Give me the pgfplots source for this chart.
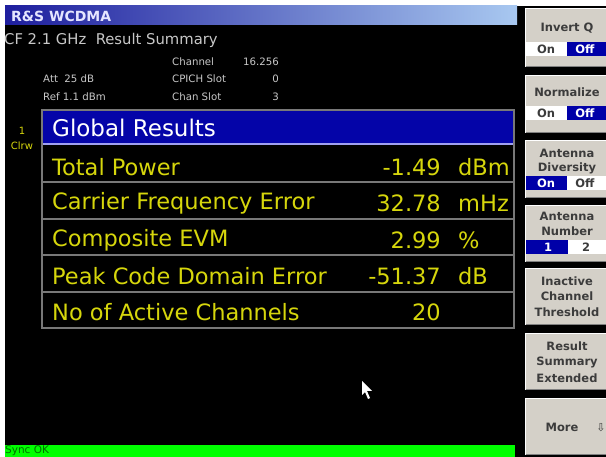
\documentclass[border=0pt]{standalone}
\usepackage{pgfplots}
\pgfplotsset{compat=1.18}
\usepackage{pgfplotstable}
\usepackage{fontspec}
\setmainfont{DejaVu Sans}
\definecolor{tbl}{HTML}{1E1E9E}
\definecolor{tbr}{HTML}{A8C8F0}
\definecolor{hdrblue}{HTML}{0404A8}
\definecolor{hdrline}{HTML}{A0A0F0}
\definecolor{yel}{HTML}{D6D60C}
\definecolor{info}{HTML}{C8C8C8}
\definecolor{grid}{HTML}{787878}
\definecolor{btn}{HTML}{D4D0C8}
\definecolor{btntxt}{HTML}{3C3C3C}
\definecolor{tgblue}{HTML}{0000A8}
\definecolor{sync}{HTML}{00FF00}
\definecolor{synctxt}{HTML}{007000}

\pgfplotstableread[col sep=comma]{
y,label,value,unit
167,Total Power,-1.49,dBm
203,Carrier Frequency Error,32.78,mHz
240,Composite EVM,2.99,\%
276,Peak Code Domain Error,-51.37,dB
312,No of Active Channels,20,{}
}\results

\newcommand{\btn}[2]{%
  \fill[btn] (axis cs:525,#1) rectangle (axis cs:606,#2);
  \draw[white, line width=1pt] (axis cs:525.5,#2) -- (axis cs:525.5,#1+0.5) -- (axis cs:606,#1+0.5);
  \draw[gray, line width=1pt] (axis cs:525.5,#2-0.5) -- (axis cs:606,#2-0.5);}
\newcommand{\btxt}[2]{\node[text=btntxt, font=\bfseries\fontsize{11.5}{13}\selectfont, inner sep=0pt] at (axis cs:567,#1) {#2};}

\begin{document}
\begin{tikzpicture}
\begin{axis}[scale only axis, width=606pt, height=457pt,
  xmin=0, xmax=606, ymin=0, ymax=457, y dir=reverse,
  hide axis, clip=false]
% screen
\fill[white] (axis cs:0,0) rectangle (axis cs:606,457);
\fill[black] (axis cs:5,6) rectangle (axis cs:606,457);
\shade[left color=tbl, right color=tbr] (axis cs:5,6) rectangle (axis cs:517,25);
\node[anchor=west, text=white!90!blue, font=\bfseries\fontsize{14}{16}\selectfont, inner sep=0pt] at (axis cs:11,16.5) {R\&S WCDMA};
\node[anchor=west, text=info, font=\fontsize{14.8}{16}\selectfont, inner sep=0pt] at (axis cs:4,40) {CF 2.1 GHz\ \ Result Summary};
\begin{scope}[every node/.style={text=info, font=\fontsize{10.2}{11}\selectfont, inner sep=0pt}]
\node[anchor=west] at (axis cs:172,62) {Channel};
\node[anchor=east] at (axis cs:279,62) {16.256};
\node[anchor=west] at (axis cs:43,79) {Att\ \ 25 dB};
\node[anchor=west] at (axis cs:172,79) {CPICH Slot};
\node[anchor=east] at (axis cs:279,79) {0};
\node[anchor=west] at (axis cs:43,97) {Ref 1.1 dBm};
\node[anchor=west] at (axis cs:172,97) {Chan Slot};
\node[anchor=east] at (axis cs:279,97) {3};
\end{scope}
\node[text=yel, font=\fontsize{10}{11}\selectfont, inner sep=0pt] at (axis cs:22,131) {1};
\node[text=yel, font=\fontsize{10}{11}\selectfont, inner sep=0pt] at (axis cs:22,146) {Clrw};
% table
\fill[hdrblue] (axis cs:42,110) rectangle (axis cs:514,144);
\draw[hdrline, line width=1.5pt] (axis cs:42,144) -- (axis cs:514,144);
\draw[grid, line width=1.5pt] (axis cs:42,182) -- (axis cs:514,182);
\draw[grid, line width=1.5pt] (axis cs:42,219) -- (axis cs:514,219);
\draw[grid, line width=1.5pt] (axis cs:42,255) -- (axis cs:514,255);
\draw[grid, line width=1.5pt] (axis cs:42,292) -- (axis cs:514,292);
\draw[grid, line width=1.5pt] (axis cs:42,110) rectangle (axis cs:514,328);
\node[anchor=west, text=white, font=\fontsize{23}{26}\selectfont, inner sep=0pt] at (axis cs:52,128) {Global Results};
\addplot[draw=none, mark=none, point meta=explicit symbolic, nodes near coords,
  nodes near coords style={anchor=west, inner sep=0pt, text=yel, font=\fontsize{22.5}{26}\selectfont}]
  table[x expr=52, y=y, meta=label] {\results};
\addplot[draw=none, mark=none, point meta=explicit symbolic, nodes near coords,
  nodes near coords style={anchor=east, inner sep=0pt, text=yel, font=\fontsize{22.5}{26}\selectfont}]
  table[x expr=441, y=y, meta=value] {\results};
\addplot[draw=none, mark=none, point meta=explicit symbolic, nodes near coords,
  nodes near coords style={anchor=west, inner sep=0pt, text=yel, font=\fontsize{22.5}{26}\selectfont}]
  table[x expr=458, y=y, meta=unit] {\results};
% cursor
\fill[white] (axis cs:362,381) -- (axis cs:362,395) -- (axis cs:365,392) -- (axis cs:368,399) -- (axis cs:370,398) -- (axis cs:367,391) -- (axis cs:372,391) -- cycle;
% status bar
\fill[sync] (axis cs:5,445) rectangle (axis cs:515,457);
\node[anchor=west, text=synctxt, font=\fontsize{10.5}{11}\selectfont, inner sep=0pt] at (axis cs:5,451) {Sync OK};
% softkeys
\btn{8}{67}\btxt{28}{Invert Q}
\fill[white] (axis cs:526,42) rectangle (axis cs:567,56);
\fill[tgblue] (axis cs:567,42) rectangle (axis cs:606,56);
\node[text=btntxt, font=\bfseries\fontsize{11.5}{13}\selectfont, inner sep=0pt] at (axis cs:546,49) {On};
\node[text=white, font=\bfseries\fontsize{11.5}{13}\selectfont, inner sep=0pt] at (axis cs:585,49) {Off};
\btn{75}{133}\btxt{92}{Normalize}
\fill[white] (axis cs:526,106) rectangle (axis cs:567,120);
\fill[tgblue] (axis cs:567,106) rectangle (axis cs:606,120);
\node[text=btntxt, font=\bfseries\fontsize{11.5}{13}\selectfont, inner sep=0pt] at (axis cs:546,113) {On};
\node[text=white, font=\bfseries\fontsize{11.5}{13}\selectfont, inner sep=0pt] at (axis cs:585,113) {Off};
\btn{140}{198}\btxt{153}{Antenna}\btxt{168}{Diversity}
\fill[tgblue] (axis cs:526,176) rectangle (axis cs:567,190);
\fill[white] (axis cs:567,176) rectangle (axis cs:606,190);
\node[text=white, font=\bfseries\fontsize{11.5}{13}\selectfont, inner sep=0pt] at (axis cs:546,183) {On};
\node[text=btntxt, font=\bfseries\fontsize{11.5}{13}\selectfont, inner sep=0pt] at (axis cs:585,183) {Off};
\btn{205}{262}\btxt{216}{Antenna}\btxt{231}{Number}
\fill[tgblue] (axis cs:526,240) rectangle (axis cs:568,254);
\fill[white] (axis cs:568,240) rectangle (axis cs:606,254);
\node[text=white, font=\bfseries\fontsize{11.5}{13}\selectfont, inner sep=0pt] at (axis cs:548,247) {1};
\node[text=btntxt, font=\bfseries\fontsize{11.5}{13}\selectfont, inner sep=0pt] at (axis cs:586,247) {2};
\btn{268}{325}\btxt{281}{Inactive}\btxt{296}{Channel}\btxt{312}{Threshold}
\btn{333}{390}\btxt{346}{Result}\btxt{362}{Summary}\btxt{378}{Extended}
\btn{398}{455}
\node[text=btntxt, font=\bfseries\fontsize{11.5}{13}\selectfont, inner sep=0pt] at (axis cs:562,427) {More};
\node[text=btntxt, font=\fontsize{11}{13}\selectfont, inner sep=0pt] at (axis cs:601,428) {⇩};
\end{axis}
\pgfresetboundingbox
\path[use as bounding box] (0,0) rectangle (606pt,457pt);
\end{tikzpicture}
\end{document}
